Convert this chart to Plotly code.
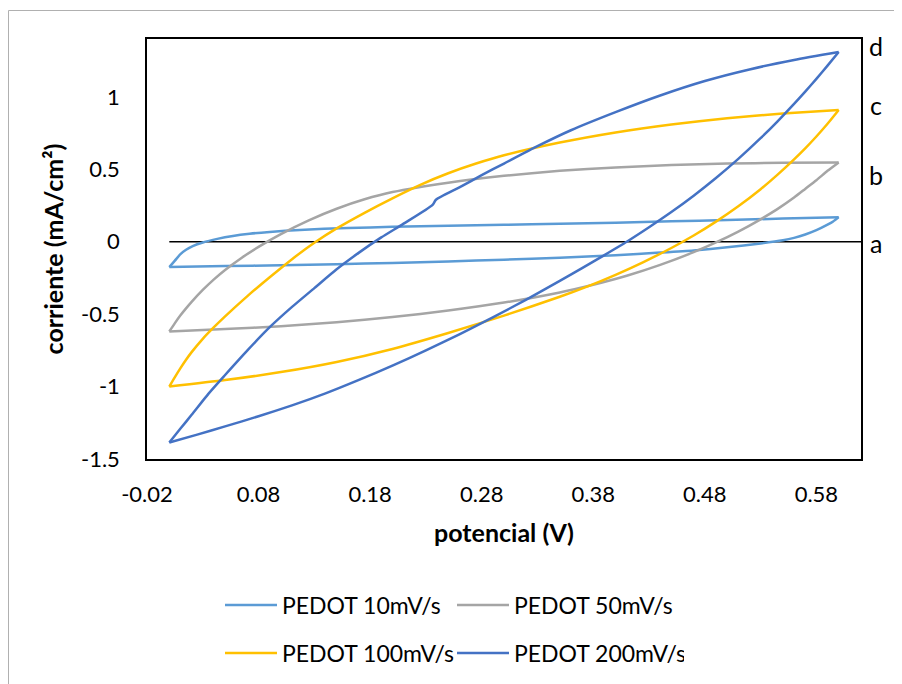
import plotly.graph_objects as go

# ---- data ----
# PEDOT 10 mV/s
x10_fwd = [0, 0.005, 0.01, 0.015, 0.021, 0.03, 0.043, 0.057, 0.072, 0.09, 0.117, 0.16, 0.2, 0.25, 0.3, 0.35, 0.4, 0.45, 0.5, 0.55, 0.6]
y10_fwd = [-0.175, -0.13, -0.085, -0.055, -0.03, -0.005, 0.02, 0.04, 0.055, 0.068, 0.082, 0.095, 0.103, 0.11, 0.117, 0.124, 0.132, 0.141, 0.15, 0.16, 0.17]
x10_rev = [0.6, 0.595, 0.59, 0.58, 0.57, 0.56, 0.55, 0.53, 0.5, 0.47, 0.44, 0.4, 0.35, 0.3, 0.25, 0.2, 0.15, 0.1, 0.05, 0.0]
y10_rev = [0.17, 0.14, 0.118, 0.08, 0.05, 0.027, 0.01, -0.012, -0.038, -0.06, -0.075, -0.093, -0.11, -0.124, -0.136, -0.146, -0.155, -0.162, -0.168, -0.175]

# PEDOT 50 mV/s
x50_fwd = [0, 0.005, 0.01, 0.015, 0.02, 0.03, 0.04, 0.05, 0.065, 0.08, 0.1, 0.125, 0.15, 0.175, 0.2, 0.25, 0.3, 0.35, 0.4, 0.45, 0.5, 0.55, 0.6]
y50_fwd = [-0.62, -0.562, -0.508, -0.46, -0.415, -0.333, -0.26, -0.195, -0.11, -0.035, 0.053, 0.148, 0.228, 0.293, 0.343, 0.408, 0.455, 0.49, 0.513, 0.53, 0.54, 0.545, 0.548]
x50_rev = [0.6, 0.59, 0.58, 0.57, 0.56, 0.545, 0.53, 0.51, 0.49, 0.47, 0.44, 0.41, 0.38, 0.35, 0.3, 0.25, 0.2, 0.15, 0.1, 0.05, 0]
y50_rev = [0.548, 0.49, 0.425, 0.365, 0.305, 0.225, 0.155, 0.07, -0.005, -0.072, -0.16, -0.235, -0.297, -0.35, -0.42, -0.475, -0.52, -0.555, -0.583, -0.603, -0.62]

# PEDOT 100 mV/s
x100_fwd = [0, 0.005, 0.01, 0.015, 0.02, 0.03, 0.04, 0.05, 0.07, 0.09, 0.11, 0.13, 0.15, 0.175, 0.2, 0.225, 0.25, 0.275, 0.3, 0.35, 0.4, 0.45, 0.5, 0.55, 0.6]
y100_fwd = [-1.0, -0.935, -0.873, -0.815, -0.762, -0.67, -0.59, -0.515, -0.375, -0.245, -0.12, -0.007, 0.092, 0.2, 0.3, 0.393, 0.473, 0.54, 0.597, 0.685, 0.755, 0.81, 0.853, 0.885, 0.91]
x100_rev = [0.6, 0.59, 0.58, 0.57, 0.56, 0.545, 0.53, 0.51, 0.49, 0.47, 0.45, 0.425, 0.4, 0.375, 0.35, 0.3, 0.25, 0.2, 0.15, 0.1, 0.05, 0]
y100_rev = [0.91, 0.815, 0.727, 0.645, 0.569, 0.462, 0.363, 0.245, 0.139, 0.043, -0.043, -0.14, -0.228, -0.308, -0.38, -0.51, -0.63, -0.74, -0.83, -0.9, -0.955, -1.0]

# PEDOT 200 mV/s
x200_fwd = [0, 0.01, 0.02, 0.035, 0.05, 0.07, 0.09, 0.11, 0.13, 0.15, 0.17, 0.19, 0.21, 0.236, 0.239, 0.26, 0.28, 0.3, 0.33, 0.36, 0.4, 0.44, 0.48, 0.52, 0.56, 0.6]
y200_fwd = [-1.386, -1.29, -1.195, -1.05, -0.92, -0.75, -0.59, -0.45, -0.32, -0.19, -0.075, 0.03, 0.125, 0.255, 0.29, 0.375, 0.46, 0.54, 0.66, 0.77, 0.895, 1.01, 1.11, 1.19, 1.255, 1.31]
x200_rev = [0.6, 0.59, 0.58, 0.57, 0.56, 0.545, 0.53, 0.51, 0.49, 0.47, 0.45, 0.43, 0.41, 0.39, 0.37, 0.35, 0.32, 0.29, 0.26, 0.23, 0.2, 0.17, 0.14, 0.11, 0.08, 0.05, 0.025, 0]
y200_rev = [1.31, 1.216, 1.125, 1.037, 0.952, 0.83, 0.715, 0.572, 0.44, 0.318, 0.205, 0.1, 0.0, -0.092, -0.182, -0.27, -0.399, -0.522, -0.639, -0.75, -0.855, -0.954, -1.047, -1.13, -1.205, -1.275, -1.332, -1.386]

# zero reference line
x_zero = [0, 0.62]
y_zero = [0, 0]

series_names = ["PEDOT 10mV/s", "PEDOT 50mV/s", "PEDOT 100mV/s", "PEDOT 200mV/s"]
series_colors = ["#5B9BD5", "#A5A5A5", "#FFC000", "#4472C4"]
curve_labels = ["a", "b", "c", "d"]
x_ticks = [-0.02, 0.08, 0.18, 0.28, 0.38, 0.48, 0.58]
y_ticks = [-1.5, -1, -0.5, 0, 0.5, 1]

FONT = "Lato"
OFF = 8  # page body offset
W, H = 894, 676
ML, MR, MT, MB = 139, 41, 31, 225
PW, PH = W - ML - MR, H - MT - MB

def px_to_paper_x(px):
    return (px - OFF - ML) / PW

def px_to_paper_y(py):
    return (H - MB - (py - OFF)) / PH

fig = go.Figure()
fig.add_trace(go.Scatter(x=x_zero, y=y_zero, mode="lines", line=dict(color="black", width=1.5),
                         showlegend=False, hoverinfo="skip", cliponaxis=False))

branches = [
    (x10_fwd, y10_fwd, x10_rev, y10_rev),
    (x50_fwd, y50_fwd, x50_rev, y50_rev),
    (x100_fwd, y100_fwd, x100_rev, y100_rev),
    (x200_fwd, y200_fwd, x200_rev, y200_rev),
]
legends = ["legend", "legend", "legend2", "legend2"]
for (xf, yf, xr, yr), name, col, lg in zip(branches, series_names, series_colors, legends):
    fig.add_trace(go.Scatter(x=xf, y=yf, mode="lines", name=name, legend=lg, legendgroup=name,
                             line=dict(color=col, width=2.5, shape="spline", smoothing=0.6)))
    fig.add_trace(go.Scatter(x=xr, y=yr, mode="lines", name=name, legend=lg, legendgroup=name,
                             showlegend=False,
                             line=dict(color=col, width=2.5, shape="spline", smoothing=0.6)))

label_y_px = [242.5, 175.5, 105, 46]
for lab, py in zip(curve_labels, label_y_px):
    fig.add_annotation(text=lab, xref="paper", yref="paper", x=px_to_paper_x(876), y=px_to_paper_y(py),
                       xanchor="center", yanchor="middle", showarrow=False,
                       font=dict(family=FONT, size=25, color="black"))

# outer chart border
fig.add_shape(type="rect", xref="paper", yref="paper",
              x0=px_to_paper_x(8.5), y0=px_to_paper_y(720), x1=px_to_paper_x(930), y1=px_to_paper_y(10.5),
              line=dict(color="#B0B0B0", width=1), fillcolor="rgba(0,0,0,0)", layer="below")

legend_common = dict(orientation="h", xanchor="left", yanchor="middle", x=px_to_paper_x(220),
                     font=dict(family=FONT, size=23, color="black"), bgcolor="rgba(0,0,0,0)",
                     entrywidth=165, itemwidth=52, traceorder="normal")

fig.update_layout(
    width=W, height=H,
    margin=dict(l=ML, r=MR, t=MT, b=MB, autoexpand=False),
    paper_bgcolor="white", plot_bgcolor="white",
    font=dict(family=FONT, color="black"),
    legend=dict(y=px_to_paper_y(605), **legend_common),
    legend2=dict(y=px_to_paper_y(653), **legend_common),
    xaxis=dict(range=[-0.02, 0.62], tickvals=x_ticks, ticktext=[f"{v:g}" for v in x_ticks],
               showgrid=False, zeroline=False, showline=True, linecolor="black", linewidth=1.5, mirror=True,
               ticks="", ticklabelstandoff=15, tickfont=dict(family=FONT, size=22, color="black"),
               title=dict(text="<b>potencial (V)</b>", font=dict(family=FONT, size=25, color="black"), standoff=18)),
    yaxis=dict(range=[-1.5, 1.4], tickvals=y_ticks, ticktext=[f"{v:g}" for v in y_ticks],
               showgrid=False, zeroline=False, showline=True, linecolor="black", linewidth=1.5, mirror=True,
               ticks="", ticklabelstandoff=21, tickfont=dict(family=FONT, size=22, color="black"),
               title=dict(text="<b>corriente (mA/cm²)</b>", font=dict(family=FONT, size=25, color="black"), standoff=10)),
)

fig.write_html("out.html")
